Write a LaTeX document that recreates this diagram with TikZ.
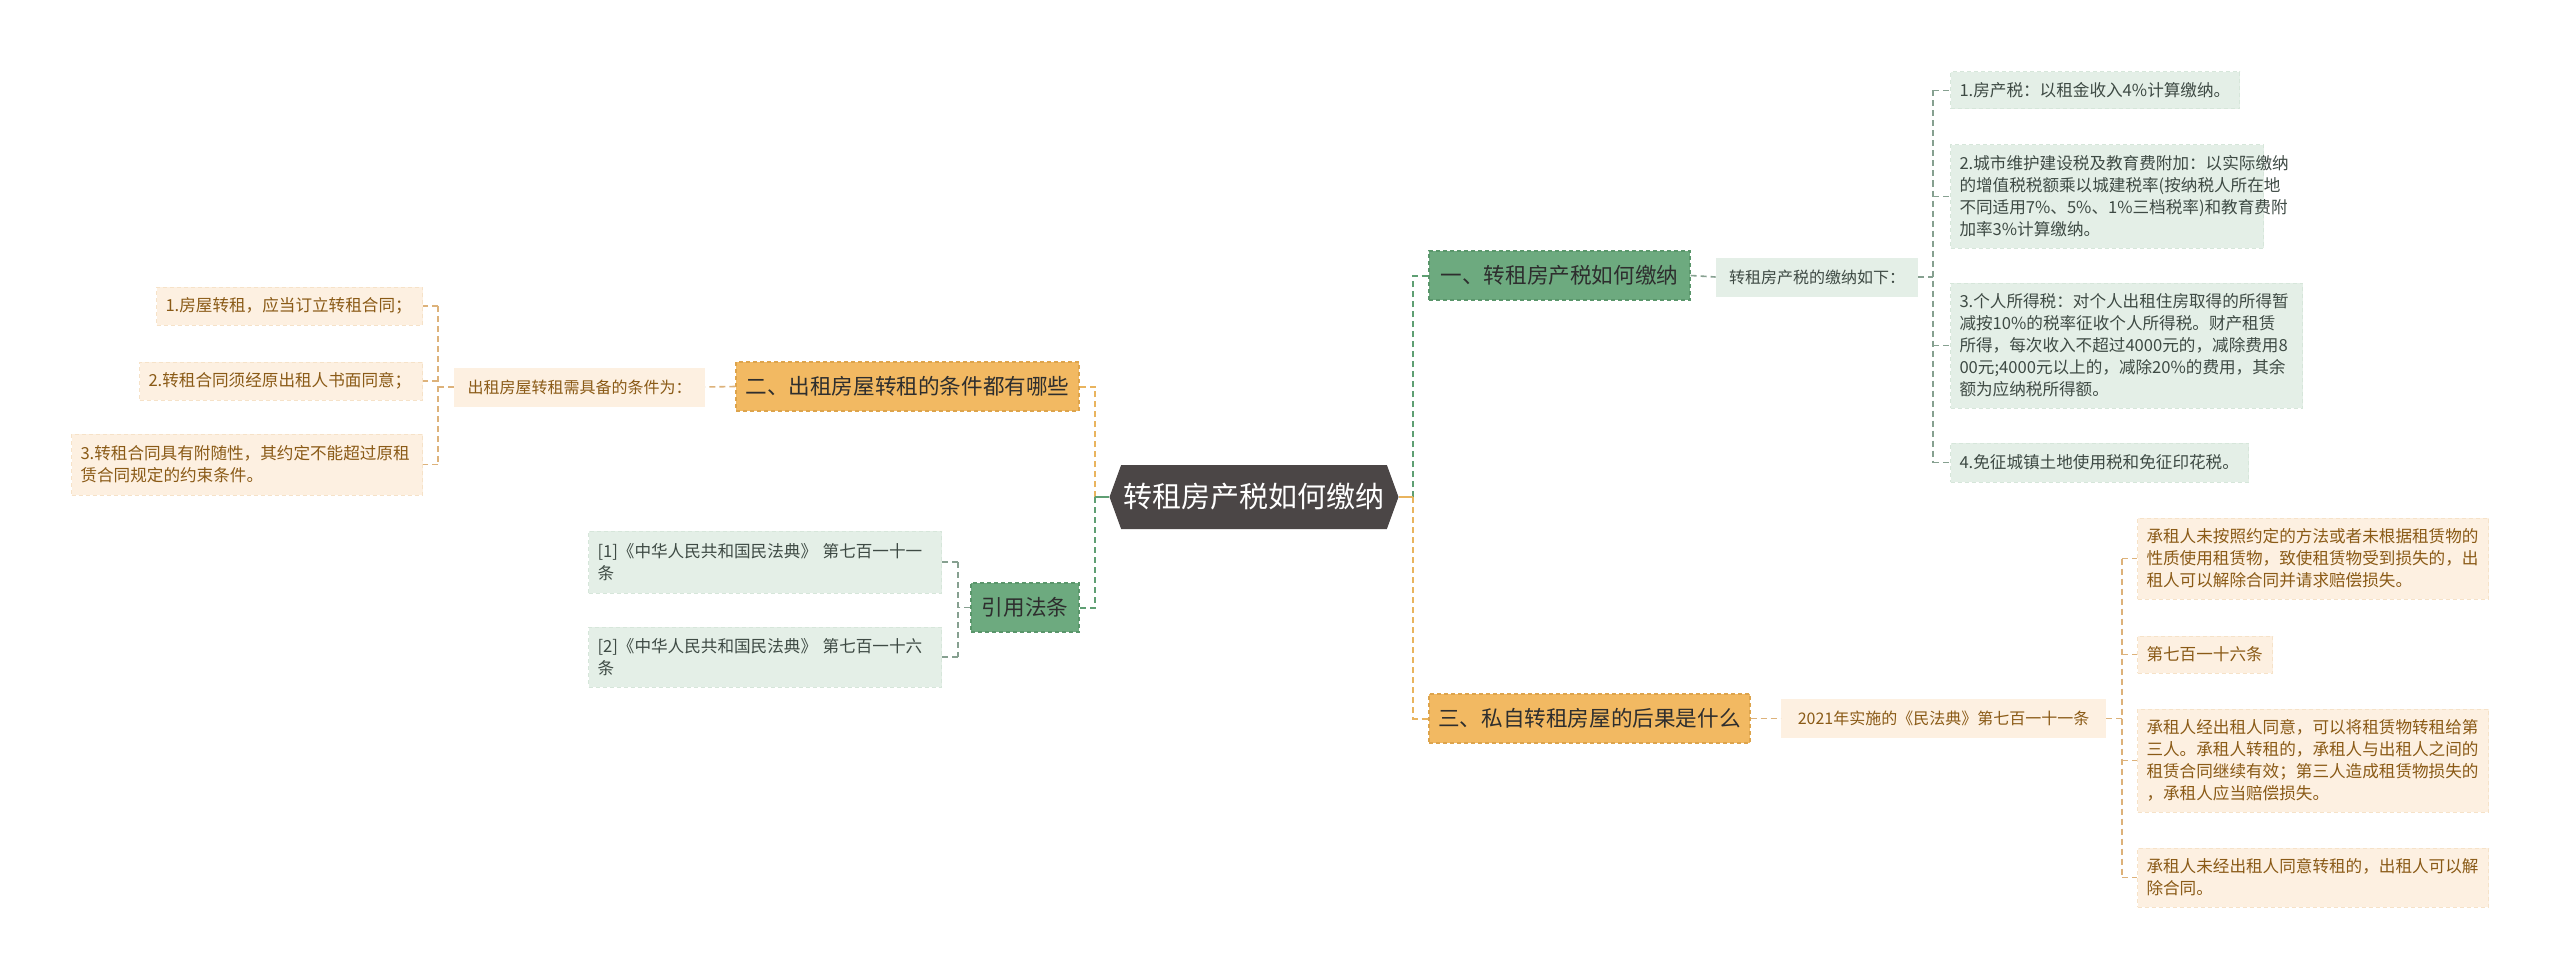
\documentclass[tikz,border=0pt]{standalone}
\usepackage{fontspec}
\setmainfont{Noto Sans CJK SC}
\usetikzlibrary{positioning,calc,shapes.symbols}
\definecolor{rootgray}{HTML}{4B4646}
\definecolor{gfill}{HTML}{6DAA7F}
\definecolor{gborder}{HTML}{5A966B}
\definecolor{glight}{HTML}{E4EFE7}
\definecolor{glightborder}{HTML}{D6E6DA}
\definecolor{gtext}{HTML}{3E4A44}
\definecolor{glinkc}{HTML}{5F9F73}
\definecolor{gsubc}{HTML}{86A090}
\definecolor{ofill}{HTML}{F2B962}
\definecolor{oborder}{HTML}{DDA44C}
\definecolor{olight}{HTML}{FDF0E1}
\definecolor{olightborder}{HTML}{F6E2C8}
\definecolor{otext}{HTML}{8A5A16}
\definecolor{olinkc}{HTML}{E9B45E}
\definecolor{osubc}{HTML}{DDB27A}
\definecolor{branchtext}{HTML}{2E2E2E}

\begin{document}
\begin{tikzpicture}[x=0.5pt,y=-0.5pt,
        rootnode/.style={signal, signal to=east and west, signal pointer angle=140,
                         fill=rootgray, text=white, inner sep=0pt,
                         font=\fontsize{14.5}{16}\selectfont,
                         minimum width=144.5pt, minimum height=32pt},
        branch/.style={draw, line width=0.6pt, dash pattern=on 2pt off 1.5pt,
                       minimum height=24.5pt, text=branchtext,
                       font=\fontsize{10.8}{13}\selectfont},
        greenbranch/.style={branch, fill=gfill, draw=gborder},
        orangebranch/.style={branch, fill=ofill, draw=oborder},
        midnode/.style={minimum height=19.5pt, font=\fontsize{8}{10}\selectfont},
        leaf/.style={align=left, inner xsep=4.5pt, draw, line width=0.5pt,
                     dash pattern=on 2pt off 1.5pt,
                     font=\fontsize{8.3}{11}\selectfont},
        greenleaf/.style={leaf, fill=glight, draw=glightborder, text=gtext},
        orangeleaf/.style={leaf, fill=olight, draw=olightborder, text=otext},
        link/.style={line width=1pt, dash pattern=on 3pt off 2pt},
        glink/.style={link, draw=glinkc},
        olink/.style={link, draw=olinkc},
        gsub/.style={line width=0.8pt, dash pattern=on 3pt off 2pt, draw=gsubc},
        osub/.style={line width=0.8pt, dash pattern=on 3pt off 2pt, draw=osubc}]
  \tikzstyle{every node}=[inner sep=0pt]
  \fill[white] (0,0) rectangle (2560,979);
  \useasboundingbox (0,0) rectangle (2560,979);

  \node[rootnode] (root) at (1254,497) {转租房产税如何缴纳};

  \node[greenbranch, minimum width=130.5pt] (b1) at (1559.5,275.5) {一、转租房产税如何缴纳};
  \node[orangebranch, minimum width=171.5pt] (b2) at (907.5,386.5) {二、出租房屋转租的条件都有哪些};
  \node[orangebranch, minimum width=160.5pt] (b3) at (1589.5,718.5) {三、私自转租房屋的后果是什么};
  \node[greenbranch, minimum width=54pt] (b4) at (1025,607.5) {引用法条};

  \node[midnode, fill=glight, text=gtext, minimum width=101pt] (c1) at (1817,277) {转租房产税的缴纳如下：};
  \node[midnode, fill=olight, text=otext, minimum width=125.5pt] (c2) at (579.5,387) {出租房屋转租需具备的条件为：};
  \node[midnode, fill=olight, text=otext, minimum width=162.5pt] (c3) at (1943.5,718.5) {2021年实施的《民法典》第七百一十一条};

  \node[greenleaf, anchor=west, text width=135.5pt, minimum height=18.5pt] (l1) at (1950,90.5)
    {1.房产税：以租金收入4\%计算缴纳。};
  \node[greenleaf, anchor=west, text width=147.5pt, minimum height=51.5pt] (l2) at (1950,196.5)
    {2.城市维护建设税及教育费附加：以实际缴纳\\的增值税税额乘以城建税率(按纳税人所在地\\不同适用7\%、5\%、1\%三档税率)和教育费附\\加率3\%计算缴纳。};
  \node[greenleaf, anchor=west, text width=167pt, minimum height=62.5pt] (l3) at (1950,345.5)
    {3.个人所得税：对个人出租住房取得的所得暂\\减按10\%的税率征收个人所得税。财产租赁\\所得，每次收入不超过4000元的，减除费用8\\00元;4000元以上的，减除20\%的费用，其余\\额为应纳税所得额。};
  \node[greenleaf, anchor=west, text width=140pt, minimum height=19.5pt] (l4) at (1950,462.5)
    {4.免征城镇土地使用税和免征印花税。};

  \node[orangeleaf, anchor=east, text width=124pt, minimum height=19pt] (m1) at (423,306)
    {1.房屋转租，应当订立转租合同；};
  \node[orangeleaf, anchor=east, text width=132.5pt, minimum height=19pt] (m2) at (423,381)
    {2.转租合同须经原出租人书面同意；};
  \node[orangeleaf, anchor=east, text width=166.5pt, minimum height=30.5pt] (m3) at (423,464.5)
    {3.转租合同具有附随性，其约定不能超过原租\\赁合同规定的约束条件。};

  \node[greenleaf, anchor=east, text width=167.5pt, minimum height=31pt] (f1) at (942,562)
    {[1]《中华人民共和国民法典》 第七百一十一\\条};
  \node[greenleaf, anchor=east, text width=167.5pt, minimum height=30pt] (f2) at (942,657)
    {[2]《中华人民共和国民法典》 第七百一十六\\条};

  \node[orangeleaf, anchor=west, text width=166.5pt, minimum height=40.5pt] (r1) at (2137,558.5)
    {承租人未按照约定的方法或者未根据租赁物的\\性质使用租赁物，致使租赁物受到损失的，出\\租人可以解除合同并请求赔偿损失。};
  \node[orangeleaf, anchor=west, text width=58.5pt, minimum height=18.5pt] (r2) at (2137,654.5)
    {第七百一十六条};
  \node[orangeleaf, anchor=west, text width=166.5pt, minimum height=51.5pt] (r3) at (2137,760.5)
    {承租人经出租人同意，可以将租赁物转租给第\\三人。承租人转租的，承租人与出租人之间的\\租赁合同继续有效；第三人造成租赁物损失的\\，承租人应当赔偿损失。};
  \node[orangeleaf, anchor=west, text width=166.5pt, minimum height=29.5pt] (r4) at (2137,877.5)
    {承租人未经出租人同意转租的，出租人可以解\\除合同。};

  \coordinate (jl) at (1095,497);
  \coordinate (jr) at (1413,497);
  \coordinate (j1) at (1933,277);
  \coordinate (j2) at (438,387);
  \coordinate (j3) at (2122,718.5);
  \coordinate (j4) at (958,607.5);

  \draw[glink] (jr) |- (b1.west);
  \draw[olink] (jr) |- (b3.west);
  \draw[olink, solid] (root.east) -- (jr);
  \draw[olink] (jl) |- (b2.east);
  \draw[glink] (jl) |- (b4.east);
  \draw[glink, solid] (root.west) -- (jl);

  \draw[gsub] (b1.east) -- (c1.west);
  \draw[gsub] (c1.east) -- (j1);
  \draw[gsub] (j1 |- l1.west) -- (j1 |- l4.west);
  \foreach \n in {l1,l2,l3,l4}
    \draw[gsub] (j1 |- \n.west) -- (\n.west);

  \draw[osub] (b2.west) -- (c2.east);
  \draw[osub] (c2.west) -- (j2);
  \draw[osub] (j2 |- m1.east) -- (j2 |- m3.east);
  \foreach \n in {m1,m2,m3}
    \draw[osub] (j2 |- \n.east) -- (\n.east);

  \draw[gsub] (b4.west) -- (j4);
  \draw[gsub] (j4 |- f1.east) -- (j4 |- f2.east);
  \foreach \n in {f1,f2}
    \draw[gsub] (j4 |- \n.east) -- (\n.east);

  \draw[osub] (b3.east) -- (c3.west);
  \draw[osub] (c3.east) -- (j3);
  \draw[osub] (j3 |- r1.west) -- (j3 |- r4.west);
  \foreach \n in {r1,r2,r3,r4}
    \draw[osub] (j3 |- \n.west) -- (\n.west);
\end{tikzpicture}
\end{document}
